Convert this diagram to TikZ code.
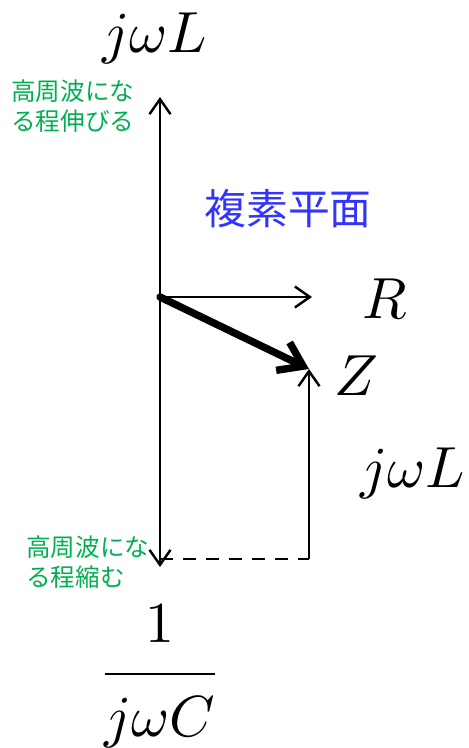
\documentclass[tikz,border=0pt]{standalone}
\usepackage{amsmath}
\usepackage{fontspec}
\newfontfamily\jpfont{Noto Sans CJK JP}
\usetikzlibrary{arrows.meta, positioning}

\definecolor{notegreen}{RGB}{0,176,80}
\definecolor{planeblue}{RGB}{51,51,255}

\begin{document}
\begin{tikzpicture}[x=0.02cm, y=-0.02cm, >={Straight Barb[length=0.3cm, width=0.42cm]}]

    \tikzset{
        axis/.style={line width=1.4pt},
        zvec/.style={line width=4.2pt, line cap=round,
            -{Straight Barb[length=0.45cm, width=0.62cm]}},
        dashline/.style={line width=1.4pt, dash pattern=on 0.26cm off 0.2cm},
        mathlabel/.style={scale=3.3, inner sep=0pt},
        note/.style={text=notegreen, font=\jpfont\fontsize{14}{17.5}\selectfont,
            align=left, inner sep=0pt},
        planelabel/.style={text=planeblue, font=\jpfont\fontsize{23.8}{28}\selectfont,
            inner sep=0pt}
    }

    \useasboundingbox (0,0) rectangle (468,748);

    % points of the plane
    \coordinate (o) at (160,297);
    \coordinate (up) at (160,97);
    \coordinate (down) at (160,567);
    \coordinate (rtip) at (312,297);
    \coordinate (ztip) at (309,369);
    \coordinate (foot) at (309,559);
    \coordinate (corner) at (160,559);

    % axes
    \draw[axis, <->] (down) -- (up);
    \draw[axis, ->] (o) -- (rtip);

    % impedance and its jwL part
    \draw[zvec] (o) -- (ztip);
    \draw[axis, ->] (foot) -- (ztip);
    \draw[dashline] (corner) -- (foot);

    % labels
    \node[mathlabel] (ltop) at (155,38) {$j\omega L$};
    \node[mathlabel] (rlabel) at (385,299) {$R$};
    \node[mathlabel] (zlabel) at (356,376) {$Z$};
    \node[mathlabel] (lside) at (413,473) {$j\omega L$};
    \node[mathlabel] (cbottom) at (160,676)
        {$\dfrac{\raisebox{1.3pt}{$1$}}{\raisebox{-1.3pt}{$j\omega C$}}$};

    \node[planelabel] (plane) at (288,209) {複素平面};
    \node[note, anchor=north west] (uptext) at (11,79) {高周波にな\\る程伸びる};
    \node[note, anchor=north west] (downtext) at (26,535) {高周波にな\\る程縮む};

\end{tikzpicture}
\end{document}
